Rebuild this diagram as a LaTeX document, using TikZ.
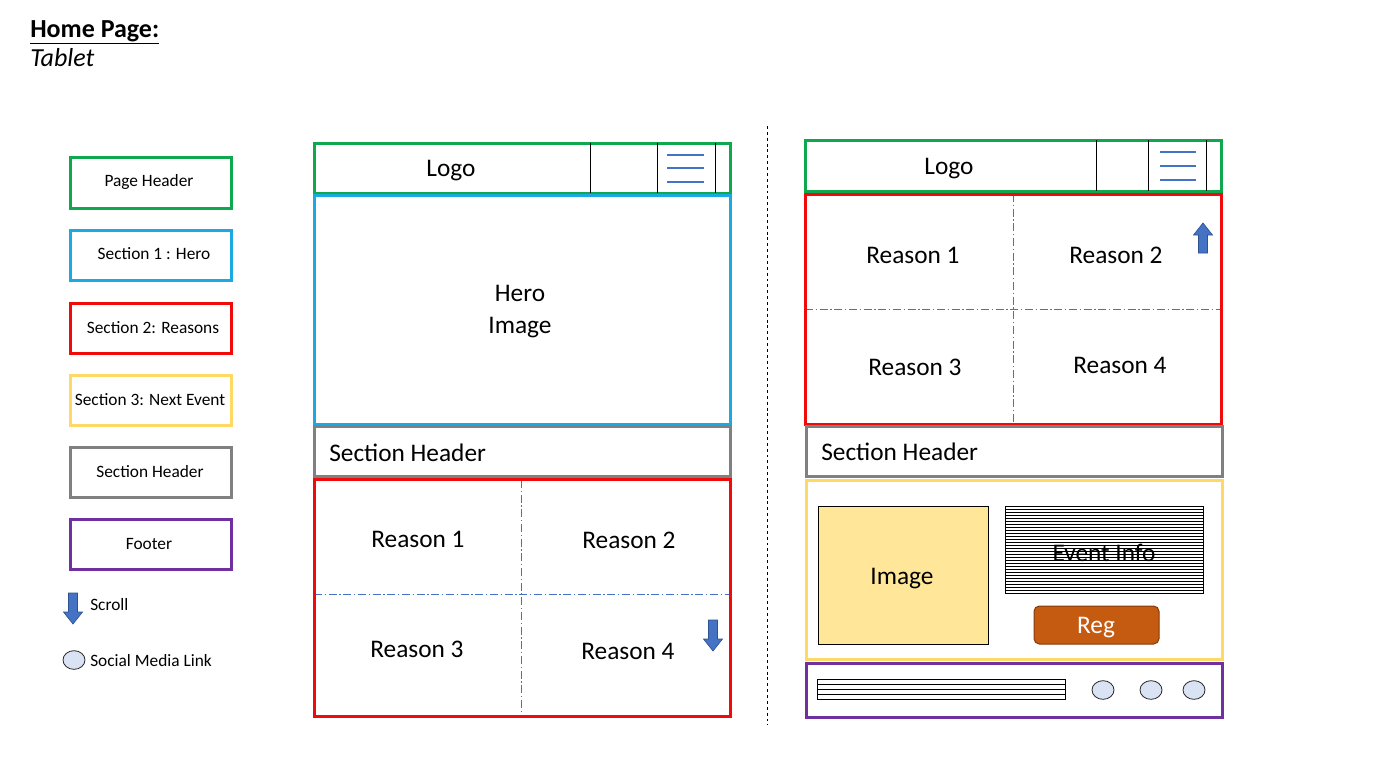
\documentclass[tikz,border=0pt]{standalone}
\usepackage{fontspec}
\setmainfont{Carlito}
\usetikzlibrary{shapes.geometric}
\definecolor{hdrgreen}{HTML}{10A84E}
\definecolor{heroblue}{HTML}{1CA9E1}
\definecolor{reasonred}{HTML}{F00A0A}
\definecolor{eventyellow}{HTML}{FFD966}
\definecolor{shgray}{HTML}{808080}
\definecolor{footpurple}{HTML}{7030A0}
\definecolor{lineblue}{HTML}{4472C4}
\definecolor{arrowedge}{HTML}{2F528F}
\definecolor{imgfill}{HTML}{FFE699}
\definecolor{regfill}{HTML}{C55A11}
\definecolor{regedge}{HTML}{843C0C}
\definecolor{dotfill}{HTML}{DAE3F3}
\tikzset{
  frame/.style={line width=2.25pt},
  bigtxt/.style={inner sep=0pt, yshift=-1.5pt, font=\fontsize{19}{24}\selectfont},
  legtxt/.style={inner sep=0pt, font=\fontsize{13}{15}\selectfont},
  divline/.style={draw=black, line width=0.75pt},
  burger/.style={draw=lineblue, line width=0.8pt},
  gridline/.style={draw=lineblue, line width=0.6pt, dash pattern=on 6pt off 2pt on 1pt off 2pt},
  hatch/.style={draw=black, line width=0.45pt},
  socialdot/.style={ellipse, draw=black!85, fill=dotfill, line width=0.6pt,
    minimum width=16.5pt, minimum height=14pt, inner sep=0pt},
  downarrow/.pic={\filldraw[fill=lineblue, draw=arrowedge, line width=0.5pt]
    (-4.5,0) -- (4.5,0) -- (4.5,19) -- (9.5,19) -- (0,31) -- (-9.5,19) -- (-4.5,19) -- cycle;},
  uparrow/.pic={\filldraw[fill=lineblue, draw=arrowedge, line width=0.5pt]
    (0,0) -- (9.5,12) -- (4.5,12) -- (4.5,30) -- (-4.5,30) -- (-4.5,12) -- (-9.5,12) -- cycle;},
}
\begin{document}
\begin{tikzpicture}[x=0.75pt, y=-0.75pt]
\useasboundingbox[fill=white] (0,0) rectangle (1379,776);

% title
\node[anchor=base west, inner sep=0pt, font=\fontsize{19.5}{23}\selectfont\bfseries] (title) at (30,37) {\underline{Home Page:}};
\node[anchor=base west, inner sep=0pt, font=\fontsize{19.5}{23}\selectfont\itshape] (subtitle) at (30,66) {Tablet};

% legend
\draw[frame, draw=hdrgreen] (70,157) rectangle (231,208);
\node[legtxt] (lg1) at (149,182) {Page Header};
\draw[frame, draw=heroblue] (70,230) rectangle (231,280);
\node[legtxt] (lg2) at (154,254) {Section 1 : Hero};
\draw[frame, draw=reasonred] (70,303) rectangle (231,353);
\node[legtxt] (lg3) at (153,328) {Section 2: Reasons};
\draw[frame, draw=eventyellow] (70,375) rectangle (231,425);
\node[legtxt] (lg4) at (150,400) {Section 3: Next Event};
\draw[frame, draw=shgray] (70,447) rectangle (231,497);
\node[legtxt] (lg5) at (150,472) {Section Header};
\draw[frame, draw=footpurple] (70,519) rectangle (231,569);
\node[legtxt] (lg6) at (149,544) {Footer};
\pic at (73,593) {downarrow};
\node[legtxt, anchor=west] (lgscroll) at (90,605) {Scroll};
\node[socialdot] (lgdot) at (74,660) {};
\node[legtxt, anchor=west] (lgsocial) at (90,661) {Social Media Link};

% centre divider
\draw[line width=0.6pt, dash pattern=on 2.2pt off 2.2pt] (767,126) -- (767,725);

% ---------- left layout ----------
% page header
\draw[frame, draw=hdrgreen] (314,143) rectangle (730,193);
\draw[divline] (590,143) -- (590,193) (657,143) -- (657,193) (715,143) -- (715,193);
\draw[burger] (667,155) -- (704,155) (667,168) -- (704,168) (667,182) -- (704,182);
\node[bigtxt] (llogo) at (451,169) {Logo};
% hero
\draw[frame, draw=heroblue] (314,195) rectangle (730,424);
\node[bigtxt, align=center] (lhero) at (520,310) {Hero\\Image};
% section header
\draw[frame, draw=shgray] (314,426) rectangle (730,476);
\node[bigtxt, anchor=west] (lsh) at (329,451) {Section Header};
% reasons
\draw[gridline] (521,480) -- (521,716) (314,594) -- (730,594);
\draw[frame, draw=reasonred] (314,479) rectangle (730,716);
\node[bigtxt] (lr1) at (418,537) {Reason 1};
\node[bigtxt] (lr2) at (629,538) {Reason 2};
\node[bigtxt] (lr3) at (417,647) {Reason 3};
\node[bigtxt] (lr4) at (628,649) {Reason 4};
\pic at (713,620) {downarrow};

% ---------- right layout ----------
% page header
\draw[frame, draw=hdrgreen] (805,140) rectangle (1221,191);
\draw[divline] (1096,140) -- (1096,191) (1148,140) -- (1148,191) (1206,140) -- (1206,191);
\draw[burger] (1160,152) -- (1196,152) (1160,166) -- (1196,166) (1160,180) -- (1196,180);
\node[bigtxt] (rlogo) at (949,167) {Logo};
% reasons
\draw[gridline] (1013,194) -- (1013,424) (805,309) -- (1221,309);
\draw[frame, draw=reasonred] (805,194) rectangle (1221,424);
\node[bigtxt] (rr1) at (913,253) {Reason 1};
\node[bigtxt] (rr2) at (1116,253) {Reason 2};
\node[bigtxt] (rr3) at (915,365) {Reason 3};
\node[bigtxt] (rr4) at (1120,363) {Reason 4};
\pic at (1203,223) {uparrow};
% section header
\draw[frame, draw=shgray] (806,426) rectangle (1222,476);
\node[bigtxt, anchor=west] (rsh) at (821,450) {Section Header};
% next event
\draw[frame, draw=eventyellow] (806,480) rectangle (1222,659);
\draw[fill=imgfill, draw=black, line width=0.75pt] (818,506) rectangle (988,644);
\node[bigtxt] (rimg) at (902,577) {Image};
\foreach \yy in {509,512,...,591} \draw[hatch] (1005,\yy) -- (1203,\yy);
\draw[draw=black, line width=0.75pt] (1005,506) rectangle (1203,593);
\node[bigtxt] (rinfo) at (1104,551) {Event Info};
\draw[fill=regfill, draw=regedge, line width=0.75pt, rounded corners=4pt] (1034,606) rectangle (1159,644);
\node[bigtxt, text=white] (rreg) at (1096,626) {Reg};
% footer
\draw[frame, draw=footpurple] (806,663) rectangle (1222,717);
\foreach \yy in {684,689,694} \draw[hatch] (817,\yy) -- (1065,\yy);
\draw[draw=black, line width=0.75pt] (817,679) rectangle (1065,699);
\node[socialdot] (rs1) at (1103,690) {};
\node[socialdot] (rs2) at (1151,690) {};
\node[socialdot] (rs3) at (1194,690) {};
\end{tikzpicture}
\end{document}
